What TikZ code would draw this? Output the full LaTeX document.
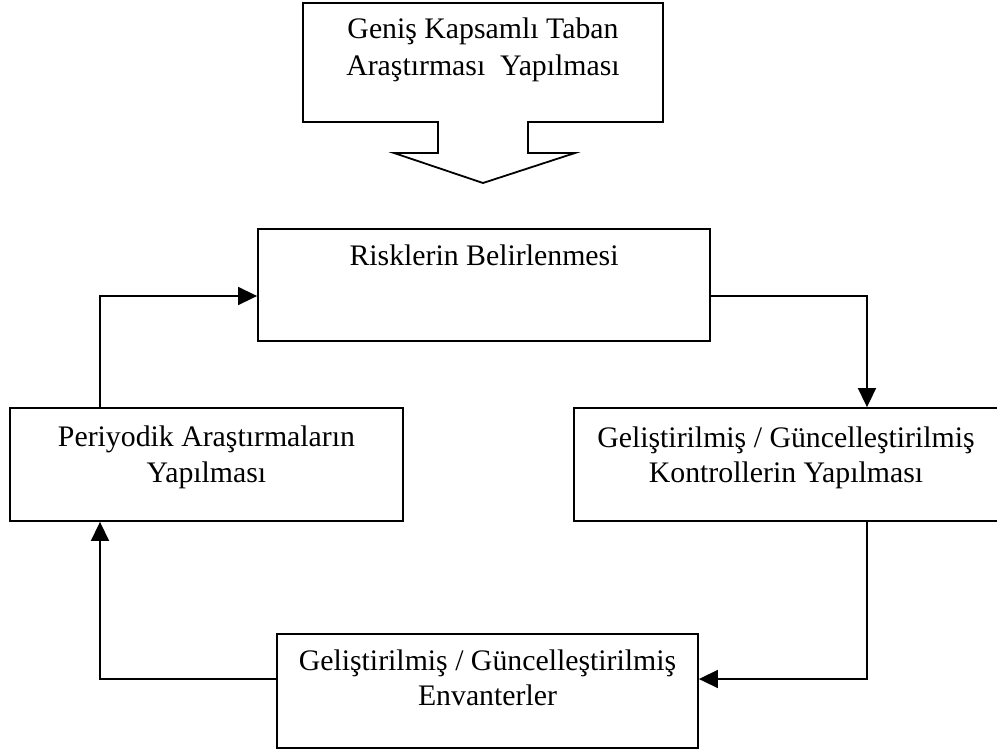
\documentclass[tikz,border=0pt]{standalone}
\usepackage{fontspec}
\setmainfont{Liberation Serif}
\usetikzlibrary{arrows.meta}
\begin{document}
\begin{tikzpicture}[x=1pt,y=-1pt,
  line width=1.8pt,
  box/.style={draw, line width=1.8pt, rectangle, inner sep=0pt},
  lbl/.style={anchor=base, inner sep=0pt, font=\fontsize{29.8}{35}\selectfont},
  arr/.style={-{Triangle[length=19pt,width=18pt]}, line width=1.6pt}]
\useasboundingbox (0,0) rectangle (997,753);

% callout box with downward arrow
\draw[line width=1.8pt, line join=miter]
  (303,3) -- (663,3) -- (663,122) -- (528,122) -- (528,153) -- (575,153)
  -- (483,183) -- (394,153) -- (438,153) -- (438,122) -- (303,122) -- cycle;
\node[lbl] (baseA) at (483,38) {Geniş Kapsamlı Taban};
\node[lbl] (baseB) at (483,75) {Araştırması\ \ Yapılması};

% process boxes
\node[box, minimum width=452pt, minimum height=112pt] (risks) at (484,285) {};
\node[box, minimum width=393pt, minimum height=113pt] (per) at (206.5,464.5) {};
\node[box, minimum width=424pt, minimum height=113pt] (ctrl) at (786,464.5) {};
\node[box, minimum width=421pt, minimum height=114pt] (inv) at (487.5,691) {};

% box labels, one node per line, placed on their baselines
\node[lbl] (risksA) at (484,265) {Risklerin Belirlenmesi};
\node[lbl] (perA) at (206.5,446) {Periyodik Araştırmaların};
\node[lbl] (perB) at (206.5,482) {Yapılması};
\node[lbl] (ctrlA) at (786,447) {Geliştirilmiş / Güncelleştirilmiş};
\node[lbl] (ctrlB) at (786,482) {Kontrollerin Yapılması};
\node[lbl] (invA) at (487.5,670) {Geliştirilmiş / Güncelleştirilmiş};
\node[lbl] (invB) at (487.5,705) {Envanterler};

% routing points of the connectors
\coordinate (c1) at (867,296);
\coordinate (c2) at (867,679);
\coordinate (c3) at (100,679);
\coordinate (c4) at (100,296);

% cycle connectors
\draw[arr] (risks.east |- c1) -| (ctrl.north -| c1);
\draw[arr] (ctrl.south -| c2) |- (inv.east |- c2);
\draw[arr] (inv.west |- c3) -| (per.south -| c3);
\draw[arr] (per.north -| c4) |- (risks.west |- c4);
\end{tikzpicture}
\end{document}
